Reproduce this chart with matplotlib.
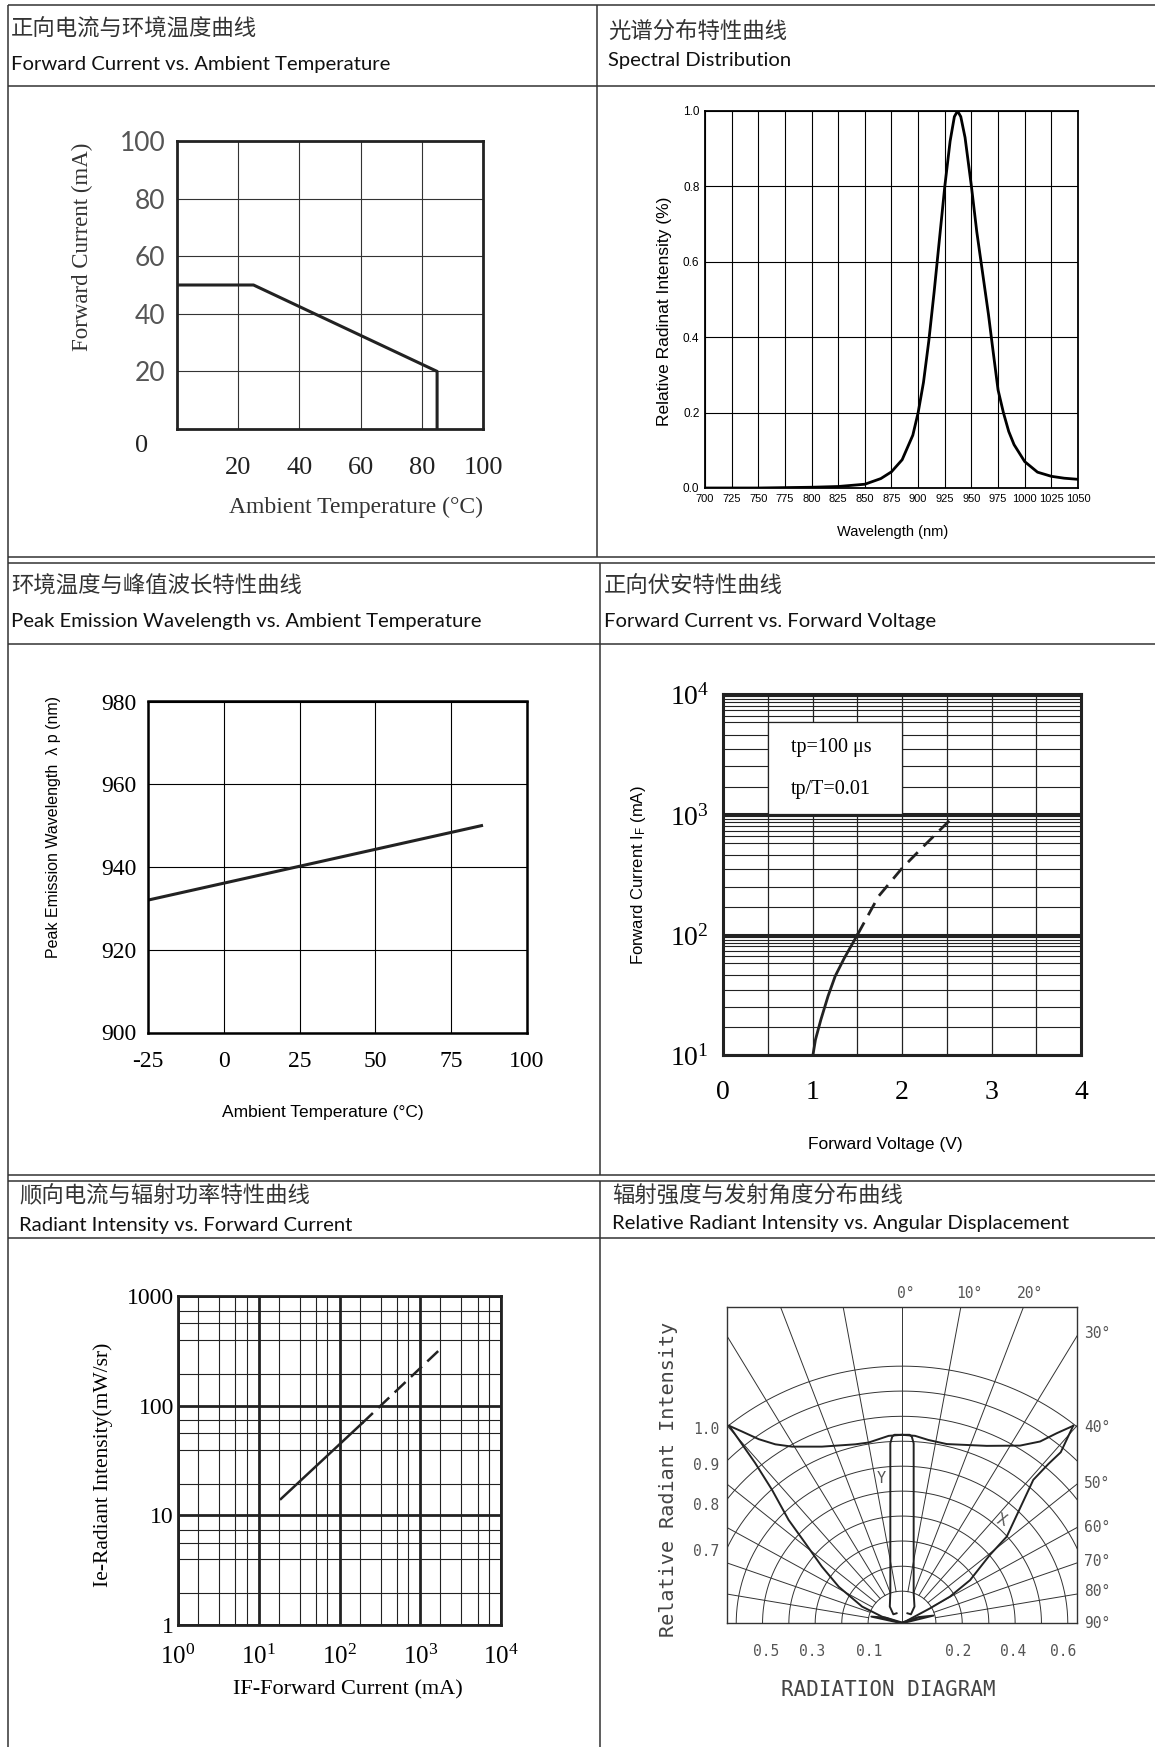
import numpy as np
import matplotlib
matplotlib.use("Agg")
import matplotlib.pyplot as plt
from matplotlib.patches import Rectangle
from matplotlib.ticker import FixedLocator, NullFormatter

W, H = 1155, 1747

plt.rcParams["mathtext.fontset"] = "custom"
plt.rcParams["mathtext.rm"] = "Liberation Serif"
plt.rcParams["mathtext.it"] = "Liberation Serif:italic"

SERIF = ["Liberation Serif", "DejaVu Serif"]
NARROW = ["Liberation Sans Narrow", "Liberation Sans", "DejaVu Sans"]
ARIAL = ["Liberation Sans", "DejaVu Sans"]
CJK = ["Noto Sans CJK SC", "DejaVu Sans"]
LATIN_TITLE = ["Lato", "DejaVu Sans"]
MONO = ["DejaVu Sans Mono"]
INK = "#222222"
RULE = "#333333"

# ---------------------------------------------------------------------------
# data
# ---------------------------------------------------------------------------

# forward current derating vs ambient temperature
derate_temp = [0, 25, 85, 85]
derate_current = [50, 50, 20, 0]

# spectral distribution
spec_wl = [700, 750, 800, 825, 850, 865, 875, 885, 895, 900, 905, 910, 915,
           920, 925, 930, 934, 937, 940, 944, 950, 955, 960, 966, 970, 975,
           980, 985, 990, 1000, 1012, 1025, 1037, 1050]
spec_rel = [0.0, 0.0, 0.002, 0.004, 0.01, 0.025, 0.043, 0.075, 0.14, 0.2,
            0.28, 0.39, 0.52, 0.66, 0.8, 0.92, 0.985, 1.0, 0.985, 0.93, 0.8,
            0.68, 0.58, 0.46, 0.37, 0.26, 0.2, 0.15, 0.115, 0.07, 0.042,
            0.031, 0.026, 0.023]

# peak wavelength vs ambient temperature
peak_temp = [-25, 85]
peak_wl = [932, 950]

# forward current vs forward voltage (solid = DC, dashed = pulsed)
ivf_solid_v = [1.005, 1.033, 1.093, 1.174, 1.254, 1.355, 1.503]
ivf_solid_i = [10, 13.4, 19.6, 30.9, 45.3, 63.8, 100]
ivf_dash_v = [1.503, 1.737, 1.998, 2.259, 2.601]
ivf_dash_i = [100, 208, 355, 560, 1000]

# radiant intensity vs forward current
ie_solid_if = [18.8, 190]
ie_solid_ie = [14.1, 69]
ie_dash_if = [190, 1840]
ie_dash_ie = [69, 337]

# radiation diagram, in units of the outer arc radius
rad_left_x = [-0.637, -0.541, -0.479, -0.418, -0.356, -0.295, -0.233, -0.147, -0.074, 0.0]
rad_left_y = [0.768, 0.623, 0.519, 0.402, 0.311, 0.220, 0.142, 0.065, 0.026, 0.0]
rad_top_x = [-0.637, -0.590, -0.528, -0.467, -0.405, -0.295, -0.172, -0.123, -0.086,
             -0.049, 0.0, 0.048, 0.097, 0.165, 0.312, 0.435, 0.509, 0.570, 0.631]
rad_top_y = [0.768, 0.746, 0.716, 0.696, 0.687, 0.687, 0.696, 0.703, 0.716,
             0.729, 0.733, 0.729, 0.713, 0.697, 0.690, 0.691, 0.707, 0.739, 0.768]
rad_right_x = [0.631, 0.585, 0.540, 0.484, 0.386, 0.324, 0.251, 0.177, 0.103, 0.0]
rad_right_y = [0.768, 0.665, 0.620, 0.558, 0.337, 0.266, 0.168, 0.104, 0.058, 0.0]
rad_spike_lx = [0.0, -0.113, -0.06, 0.0]
rad_spike_ly = [0.0, 0.026, 0.022, 0.003]
rad_spike_rx = [0.0, 0.116, 0.06, 0.0]
rad_spike_ry = [0.0, 0.030, 0.024, 0.003]
rad_y_x = [-0.020, -0.032, -0.045, -0.043, -0.043, -0.036, -0.028,
           0.028, 0.036, 0.043, 0.043, 0.046, 0.033, 0.020]
rad_y_y = [0.039, 0.035, 0.065, 0.118, 0.700, 0.726, 0.733,
           0.733, 0.726, 0.700, 0.118, 0.065, 0.035, 0.039]
arc_radii = [0.125, 0.222, 0.32, 0.417, 0.514, 0.611, 0.708, 0.805, 0.903, 1.0]
spoke_angles = [-80, -70, -60, -50, -40, -30, -20, -10, 10, 20, 30, 40, 50, 60, 70, 80]


def px_axes(fig, left, top, right, bottom):
    return fig.add_axes([left / W, 1 - bottom / H, (right - left) / W, (bottom - top) / H])


def frame(ax, lw, color=INK):
    for sp in ax.spines.values():
        sp.set_linewidth(lw)
        sp.set_color(color)
        sp.set_zorder(4)


def table(bg):
    kw = dict(color=RULE, lw=1.1, solid_capstyle="butt")
    for y in (5, 86, 557, 563, 644, 1175, 1181, 1238):
        bg.plot([8, W], [y, y], **kw)
    bg.plot([8, 8], [5, H], **kw)
    bg.plot([597, 597], [5, 557], **kw)
    bg.plot([600, 600], [563, 1175], **kw)
    bg.plot([600, 600], [1181, H], **kw)

    titles = [
        (11, 29, 64, "正向电流与环境温度曲线", "Forward Current vs. Ambient Temperature"),
        (608, 31, 60, "光谱分布特性曲线", "Spectral Distribution"),
        (11, 586, 622, "环境温度与峰值波长特性曲线", "Peak Emission Wavelength vs. Ambient Temperature"),
        (604, 585, 622, "正向伏安特性曲线", "Forward Current vs. Forward Voltage"),
        (19, 1196, 1225, "顺向电流与辐射功率特性曲线", "Radiant Intensity vs. Forward Current"),
        (612, 1195, 1224, "辐射强度与发射角度分布曲线", "Relative Radiant Intensity vs. Angular Displacement"),
    ]
    for x, y_cn, y_en, cn, en in titles:
        bg.text(x, y_cn, cn, family=CJK, size=16.1, color="#333333", va="center", ha="left")
        bg.text(x, y_en, en, family=LATIN_TITLE, size=14.6, color="#111111", va="center", ha="left")


def derating_panel(fig, bg):
    ax = px_axes(fig, 177, 141, 483, 429)
    ax.plot(derate_temp, derate_current, color=INK, lw=2.2, zorder=3)
    ax.set_xlim(0, 100)
    ax.set_ylim(0, 100)
    ticks = [20, 40, 60, 80, 100]
    ax.set_xticks(ticks, labels=[str(t) for t in ticks], family=SERIF, size=19, color=INK)
    ax.set_yticks(ticks, labels=[str(t) for t in ticks], family=["Lato", "DejaVu Sans"],
                  size=19, color="#555555")
    ax.grid(True, color="#333333", lw=0.8)
    ax.tick_params(length=0)
    ax.tick_params(axis="x", pad=20)
    ax.tick_params(axis="y", pad=8.5)
    frame(ax, 2.0)
    bg.text(142, 446, "0", family=SERIF, size=19, color=INK, ha="center", va="center")
    bg.text(82, 247, "Forward Current (mA)", family=SERIF, size=16.5, color="#333333",
            rotation=90, ha="center", va="center")
    bg.text(356, 507, "Ambient Temperature (°C)", family=SERIF, size=17, color="#333333",
            ha="center", va="center")


def spectrum_panel(fig, bg):
    ax = px_axes(fig, 705, 111, 1078, 488)
    ax.plot(spec_wl, spec_rel, color="black", lw=2.0, zorder=3)
    ax.set_xlim(700, 1050)
    ax.set_ylim(0, 1)
    xt = list(range(700, 1051, 25))
    yt = [0.0, 0.2, 0.4, 0.6, 0.8, 1.0]
    ax.set_xticks(xt, labels=[str(t) for t in xt], family=NARROW, size=8)
    ax.set_yticks(yt, labels=[f"{v:.1f}" for v in yt], family=NARROW, size=8.5)
    ax.grid(True, color="black", lw=0.8)
    ax.tick_params(length=0, pad=4)
    frame(ax, 1.3, "black")
    bg.text(665, 311, "Relative Radinat Intensity (%)", family=ARIAL, size=12.5,
            rotation=90, ha="center", va="center")
    bg.text(893, 532, "Wavelength (nm)", family=NARROW, size=10.5, ha="center", va="center")


def peak_panel(fig, bg):
    ax = px_axes(fig, 148, 701.5, 527, 1032.5)
    ax.plot(peak_temp, peak_wl, color=INK, lw=2.2, zorder=3)
    ax.set_xlim(-25, 100)
    ax.set_ylim(900, 980)
    xt = [-25, 0, 25, 50, 75, 100]
    yt = [900, 920, 940, 960, 980]
    ax.set_xticks(xt, labels=[str(t) for t in xt], family=SERIF, size=17)
    ax.set_yticks(yt, labels=[str(t) for t in yt], family=SERIF, size=17)
    ax.grid(True, color="black", lw=0.8)
    ax.tick_params(length=0)
    ax.tick_params(axis="x", pad=13)
    ax.tick_params(axis="y", pad=8.5)
    frame(ax, 1.8, "black")
    bg.text(323, 1112, "Ambient Temperature (°C)", family=NARROW, size=12.5,
            ha="center", va="center")
    bg.text(54, 827, "Peak Emission Wavelength  λ p (nm)", family=NARROW, size=11.5,
            rotation=90, ha="center", va="center")


def ivf_panel(fig, bg):
    ax = px_axes(fig, 723, 694, 1081, 1055)
    ax.set_yscale("log")
    ax.set_xlim(0, 4)
    ax.set_ylim(10, 1e4)
    ax.plot(ivf_solid_v, ivf_solid_i, color=INK, lw=2.0, zorder=3)
    ax.plot(ivf_dash_v, ivf_dash_i, color=INK, lw=2.0, ls=(0, (5, 3)), zorder=3)

    ax.set_xticks([0, 1, 2, 3, 4], labels=["0", "1", "2", "3", "4"], family=SERIF, size=20)
    ax.set_xticks([0.5, 1.5, 2.5, 3.5], minor=True)
    ax.yaxis.set_major_locator(FixedLocator([10, 100, 1000, 10000]))
    ax.set_yticks([10, 100, 1000, 10000],
                  labels=[r"$10^{1}$", r"$10^{2}$", r"$10^{3}$", r"$10^{4}$"], size=20)
    subs = [1.7, 2.5, 3.5, 4.6, 5.8, 6.6, 7.3, 8.0, 8.6, 9.1, 9.6]
    ax.yaxis.set_minor_locator(FixedLocator([d * s for d in (10, 100, 1000) for s in subs]))
    ax.yaxis.set_minor_formatter(NullFormatter())
    ax.grid(True, which="major", axis="y", color=INK, lw=2.2)
    ax.grid(True, which="minor", axis="y", color=INK, lw=0.8)
    ax.grid(True, which="both", axis="x", color=INK, lw=0.9)
    ax.tick_params(which="both", length=0)
    ax.tick_params(axis="x", pad=18)
    ax.tick_params(axis="y", pad=10)
    frame(ax, 2.2)

    ax.add_patch(Rectangle((0.5, 1000), 1.5, 5800 - 1000, facecolor="white",
                           edgecolor=INK, lw=0.9, zorder=2))
    # text inside the plot area: owned by this axes, placed in page pixels
    ax.text(831, 747, "tp=100 μs", family=SERIF, size=14.5, ha="center", va="center",
            transform=bg.transData, zorder=5)
    ax.text(831, 789, "tp/T=0.01", family=SERIF, size=14.5, ha="center", va="center",
            transform=bg.transData, zorder=5)
    bg.text(885, 1144, "Forward Voltage (V)", family=NARROW, size=12.5, ha="center", va="center")
    bg.text(639, 875, r"Forward Current I$_\mathregular{F}$ (mA)", family=NARROW, size=12,
            rotation=90, ha="center", va="center")


def radiant_panel(fig, bg):
    ax = px_axes(fig, 178, 1296, 501, 1625)
    ax.set_xscale("log")
    ax.set_yscale("log")
    ax.set_xlim(1, 1e4)
    ax.set_ylim(1, 1000)
    ax.plot(ie_solid_if, ie_solid_ie, color=INK, lw=1.8, zorder=3)
    ax.plot(ie_dash_if, ie_dash_ie, color=INK, lw=1.8, ls=(0, (6, 3)), zorder=3)

    ax.xaxis.set_major_locator(FixedLocator([1, 10, 100, 1000, 10000]))
    ax.set_xticks([1, 10, 100, 1000, 10000],
                  labels=[r"$10^{0}$", r"$10^{1}$", r"$10^{2}$", r"$10^{3}$", r"$10^{4}$"], size=18)
    ax.set_yticks([1, 10, 100, 1000], labels=["1", "10", "100", "1000"], family=SERIF, size=17)
    xsubs = [1.78, 3.24, 5.13, 7.08]
    ysubs = [1.95, 3.98, 5.62, 7.33]
    ax.xaxis.set_minor_locator(FixedLocator([d * s for d in (1, 10, 100, 1000) for s in xsubs]))
    ax.yaxis.set_minor_locator(FixedLocator([d * s for d in (1, 10, 100) for s in ysubs]))
    ax.xaxis.set_minor_formatter(NullFormatter())
    ax.yaxis.set_minor_formatter(NullFormatter())
    ax.grid(True, which="major", color=INK, lw=2.0)
    ax.grid(True, which="minor", color=INK, lw=0.8)
    ax.tick_params(which="both", length=0)
    ax.tick_params(axis="x", pad=14)
    ax.tick_params(axis="y", pad=3)
    frame(ax, 2.0)
    bg.text(348, 1690, "IF-Forward Current (mA)", family=SERIF, size=16, ha="center", va="center")
    bg.text(103, 1465, "Ie-Radiant Intensity(mW/sr)", family=SERIF, size=15.5,
            rotation=90, ha="center", va="center")


def radiation_panel(fig, bg):
    ax = px_axes(fig, 727, 1307, 1077, 1623.3)
    ax.set_xlim(-0.645, 0.645)
    ax.set_ylim(0, 1.23)
    ax.set_xticks([])
    ax.set_yticks([])
    frame(ax, 1.0, "#333333")
    grid_kw = dict(color="#333333", lw=0.7, zorder=1)
    t = np.linspace(0, np.pi, 240)
    for r in arc_radii:
        ax.plot(r * np.cos(t), r * np.sin(t), **grid_kw)
    for a in spoke_angles:
        th = np.radians(a)
        ax.plot([arc_radii[0] * np.sin(th), 2 * np.sin(th)],
                [arc_radii[0] * np.cos(th), 2 * np.cos(th)], **grid_kw)
    ax.plot([0, 0], [0, 2], **grid_kw)

    ckw = dict(color=INK, lw=1.4, zorder=3, solid_joinstyle="round")
    ax.plot(rad_left_x, rad_left_y, **ckw)
    ax.plot(rad_top_x, rad_top_y, **ckw)
    ax.plot(rad_right_x, rad_right_y, **ckw)
    ax.plot(rad_spike_lx, rad_spike_ly, **ckw)
    ax.plot(rad_spike_rx, rad_spike_ry, **ckw)
    ax.plot(rad_y_x, rad_y_y, **ckw)
    ax.text(-0.076, 0.564, "Y", family=MONO, size=11, color="#555555", ha="center", va="center")
    ax.text(0.367, 0.402, "X", family=MONO, size=11, color="#555555", ha="center", va="center",
            rotation=-20)

    lab = dict(family=MONO, size=10.5, color="#555555", va="center")
    for x, s in ((906, "0°"), (969, "10°"), (1030, "20°")):
        bg.text(x, 1294, s, ha="center", **lab)
    for y, s in ((1334, "30°"), (1428, "40°"), (1484, "50°"), (1527, "60°"),
                 (1562, "70°"), (1592, "80°"), (1624, "90°")):
        bg.text(1084, y, s, ha="left", **lab)
    for y, s in ((1430, "1.0"), (1466, "0.9"), (1506, "0.8"), (1551, "0.7")):
        bg.text(719, y, s, ha="right", **lab)
    for x, s in ((766, "0.5"), (812, "0.3"), (869, "0.1"), (958, "0.2"), (1013, "0.4"), (1063, "0.6")):
        bg.text(x, 1652, s, ha="center", **lab)
    bg.text(888, 1690, "RADIATION DIAGRAM", family=MONO, size=15, color="#444444",
            ha="center", va="center")
    bg.text(668, 1479, "Relative Radiant Intensity", family=MONO, size=14.5, color="#444444",
            rotation=90, ha="center", va="center")


def main():
    fig = plt.figure(figsize=(W / 100, H / 100), dpi=100, facecolor="white")
    bg = fig.add_axes([0, 0, 1, 1])
    bg.set_xlim(0, W)
    bg.set_ylim(H, 0)
    bg.axis("off")
    table(bg)
    derating_panel(fig, bg)
    spectrum_panel(fig, bg)
    peak_panel(fig, bg)
    ivf_panel(fig, bg)
    radiant_panel(fig, bg)
    radiation_panel(fig, bg)
    fig.savefig("out.png", dpi=100, facecolor="white")


if __name__ == "__main__":
    main()
